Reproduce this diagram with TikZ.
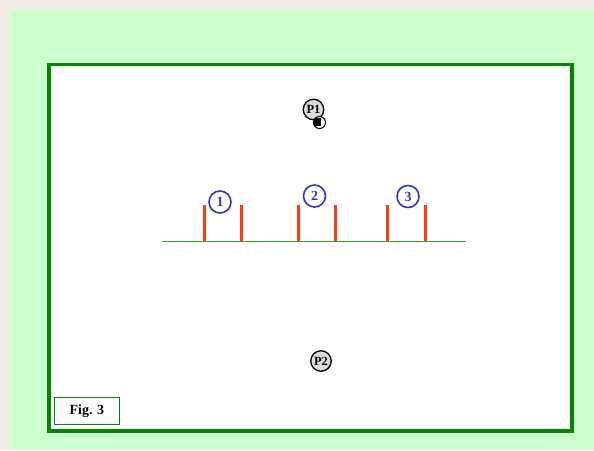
\documentclass[tikz,border=0pt]{standalone}
\usepackage{fontspec}
\setmainfont{Liberation Serif}
\definecolor{bggreen}{HTML}{CCFFCC}
\definecolor{framegreen}{HTML}{008800}
\definecolor{linegreen}{HTML}{22AA22}
\definecolor{barred}{HTML}{FF3A10}
\definecolor{numblue}{HTML}{3333CC}
\definecolor{offwhite}{HTML}{EFEDE6}
\definecolor{pgray}{HTML}{DDDDDD}
\tikzset{
  x=1pt, y=-1pt,
  bar/.style={draw=barred, line width=3pt},
  numcirc/.style={circle, draw=numblue, line width=1.6pt, fill=white, text=numblue, font=\bfseries\fontsize{14}{14}\selectfont, inner sep=0pt, minimum size=22pt},
  pcirc/.style={circle, draw=black, line width=1.3pt, fill=pgray, font=\bfseries\fontsize{12.5}{12.5}\selectfont, inner sep=0pt, minimum size=20.5pt},
}
\begin{document}
\begin{tikzpicture}
\useasboundingbox (0,0) rectangle (594,450);
\fill[offwhite] (0,0) rectangle (594,450);
\fill[bggreen] (9,10) rectangle (594,450);
% frame
\draw[framegreen, line width=3.6pt, fill=white] (49,64.5) rectangle (572,431);
% Fig box
\node[draw=framegreen, line width=0.8pt, fill=white, minimum width=65pt, minimum height=27pt, inner sep=0pt, font=\bfseries\fontsize{14}{14}\selectfont, anchor=north west] (fig) at (54,397) {Fig. 3};
% ground line
\coordinate (gl) at (162,241.5);
\coordinate (gr) at (466,241.5);
\draw[linegreen, line width=1.2pt] (gl) -- (gr);
% bars
\foreach \x [count=\i] in {204,241.5,298,335.5,387,425} {
  \coordinate (bt\i) at (\x,205);
  \coordinate (bb\i) at (\x,241);
  \draw[bar] (bt\i) -- (bb\i);
}
% numbered circles
\node[numcirc] (n1) at (220,202) {1};
\node[numcirc] (n2) at (314.5,196) {2};
\node[numcirc] (n3) at (408,196.5) {3};
% P1
\node[pcirc] (p1) at (313.5,109.5) {P1};
\node[circle, draw=black, line width=1.1pt, fill=white, minimum size=12pt, inner sep=0pt] (p1s) at (319.5,122.5) {};
\fill[black] (313.5,118) rectangle (320.5,126);
% P2
\node[pcirc] (p2) at (321,361) {P2};
\end{tikzpicture}
\end{document}
